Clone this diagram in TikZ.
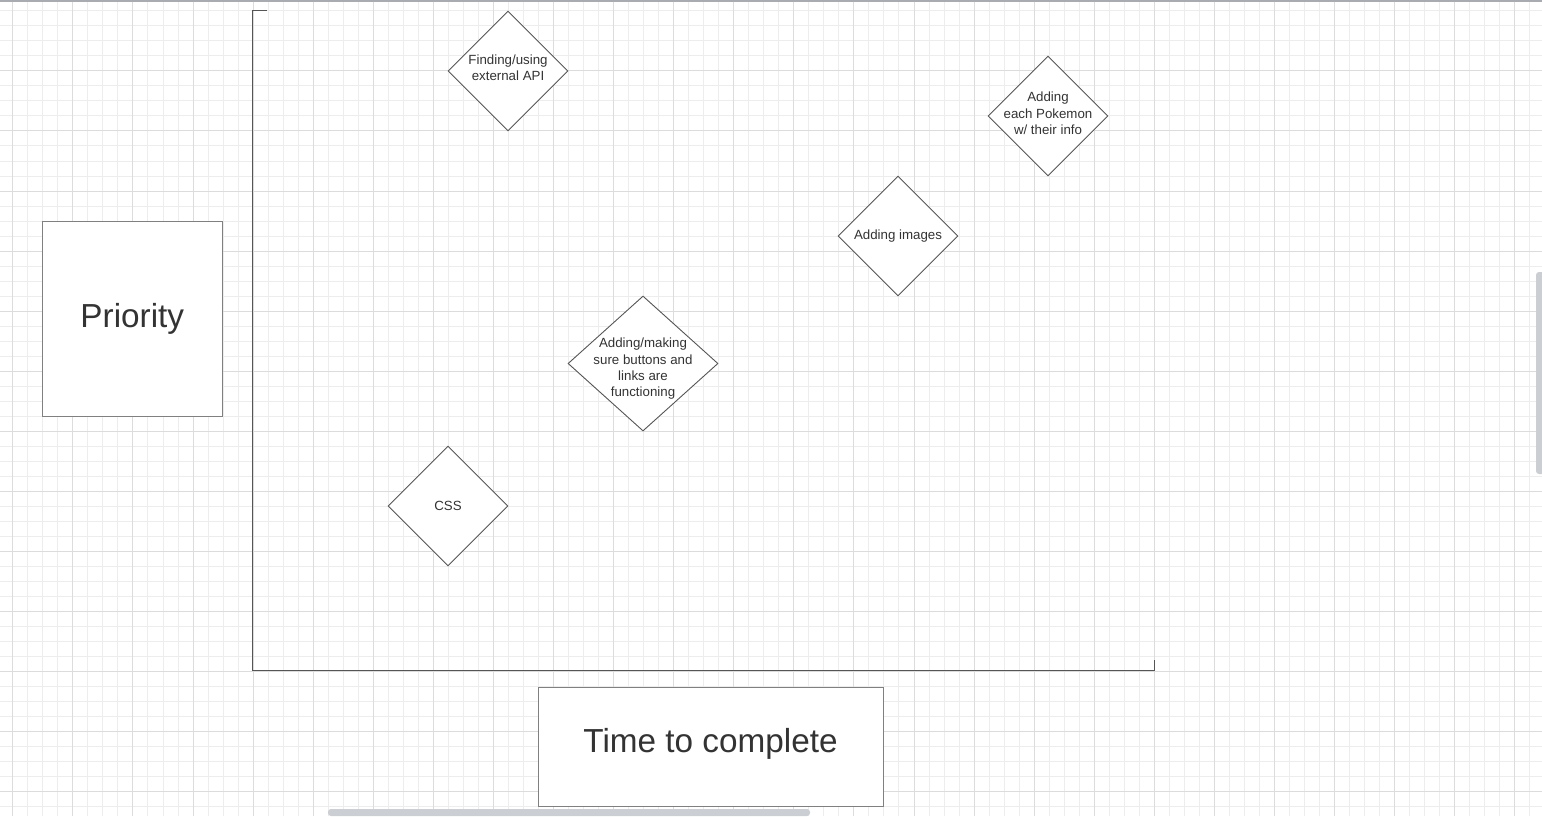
\documentclass[tikz,border=0pt]{standalone}
\usepackage{fontspec}
\setmainfont{Liberation Sans}
\usetikzlibrary{shapes.geometric}
\definecolor{gridminor}{HTML}{EDEDED}
\definecolor{gridmajor}{HTML}{DCDCDC}
\definecolor{edgegray}{HTML}{555555}
\definecolor{boxgray}{HTML}{808080}
\definecolor{txtgray}{HTML}{333333}
\definecolor{scrollgray}{HTML}{CBCED2}
\definecolor{topgray}{HTML}{A8ACB1}
\tikzset{
  dia/.style={draw=edgegray, line width=0.9bp, diamond, aspect=1, inner sep=0pt, fill=white},
  smalltxt/.style={text=txtgray, align=center, inner sep=0pt, font=\fontsize{13.3bp}{16.3bp}\selectfont},
  bigbox/.style={draw=boxgray, line width=1bp, fill=white, rectangle, inner sep=0pt, text=txtgray, font=\fontsize{33.3bp}{40bp}\selectfont},
  axis/.style={draw=edgegray, line width=1bp},
  scroll/.style={fill=scrollgray, rounded corners=3bp}
}
\begin{document}
\begin{tikzpicture}[x=1bp,y=-1bp]
\useasboundingbox (0,0) rectangle (1542,816);
\fill[white] (0,0) rectangle (1542,816);
% grid: minor lines first, then major lines on every fourth minor position
\foreach \k in {0,...,102}{
  \pgfmathsetmacro{\xx}{round(12.3+15.02*\k)+0.5}
  \draw[gridminor, line width=1bp] (\xx,2) -- (\xx,816);
}
\foreach \k in {0,...,54}{
  \pgfmathsetmacro{\yy}{round(10.3+15.02*\k)+0.5}
  \draw[gridminor, line width=1bp] (0,\yy) -- (1542,\yy);
}
\foreach \k in {0,4,...,100}{
  \pgfmathsetmacro{\xx}{round(12.3+15.02*\k)+0.5}
  \draw[gridmajor, line width=1bp] (\xx,2) -- (\xx,816);
}
\foreach \k in {4,8,...,52}{
  \pgfmathsetmacro{\yy}{round(10.3+15.02*\k)+0.5}
  \draw[gridmajor, line width=1bp] (0,\yy) -- (1542,\yy);
}
\draw[topgray, line width=1.5bp] (0,1) -- (1542,1);
% axes
\coordinate (ytop) at (252.5,10.5);
\coordinate (ytick) at (267,10.5);
\coordinate (origin) at (252.5,670.5);
\coordinate (xend) at (1154.5,670.5);
\coordinate (xtick) at (1154.5,660);
\draw[axis] (ytick) -- (ytop) -- (origin) -- (xend) -- (xtick);
% label boxes
\node[bigbox, minimum width=180bp, minimum height=195bp] (prio) at (132.3,318.5) {Priority};
\node[bigbox, minimum width=345bp, minimum height=119bp] (time) at (710.5,746.5) {};
\node[text=txtgray, inner sep=0pt, font=\fontsize{33.3bp}{40bp}\selectfont] (timetxt) at (710.5,744) {Time to complete};
% diamonds
\node[dia, minimum width=120bp, minimum height=120bp] (api) at (508,71) {};
\node[smalltxt] (apitxt) at (508,68) {Finding/using\\external API};
\node[dia, minimum width=120bp, minimum height=120bp] (poke) at (1048,116) {};
\node[smalltxt] (poketxt) at (1048,113.5) {Adding\\each Pokemon\\w/ their info};
\node[dia, minimum width=120bp, minimum height=120bp] (img) at (898,236) {};
\node[smalltxt] (imgtxt) at (898,236.5) {Adding images};
\node[dia, minimum width=150bp, minimum height=135bp] (btn) at (643,363.5) {};
\node[smalltxt] (btntxt) at (643,369) {Adding/making\\sure buttons and\\links are\\functioning};
\node[dia, minimum width=120bp, minimum height=120bp] (css) at (448,506) {};
\node[smalltxt] (csstxt) at (448,506) {CSS};
% scrollbars
\fill[scroll] (328,809) rectangle (810,816);
\fill[scroll] (1536,272) rectangle (1545,474);
\end{tikzpicture}
\end{document}
